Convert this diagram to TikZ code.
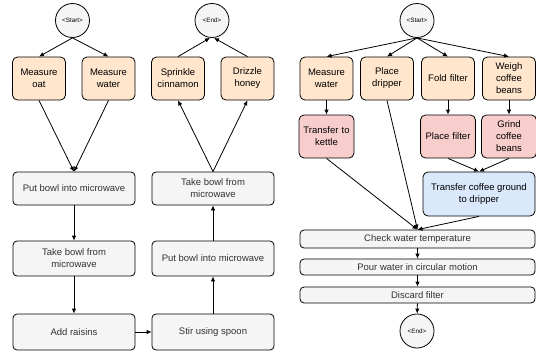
\documentclass[tikz,border=0pt]{standalone}
\usepackage{fontspec}
\setmainfont{Liberation Sans}
\usetikzlibrary{arrows.meta}
\definecolor{orfill}{HTML}{FFE6CC}
\definecolor{pkfill}{HTML}{F8CECC}
\definecolor{blfill}{HTML}{DAE8FC}
\definecolor{gyfill}{HTML}{F5F5F5}
\definecolor{gytext}{HTML}{333333}
\tikzset{
  x=1pt, y=-1pt,
  box/.style={draw=black, line width=0.8pt, rounded corners=5pt, align=center, font=\fontsize{9.5}{12}\selectfont, inner sep=1pt},
  orbox/.style={box, fill=orfill, minimum width=52pt, minimum height=43pt, text width=51pt},
  pkbox/.style={box, fill=pkfill, minimum width=53pt, minimum height=43pt, text width=53pt},
  blbox/.style={box, fill=blfill},
  gybox/.style={box, fill=gyfill, text=gytext, rounded corners=4pt},
  term/.style={draw=black, line width=0.8pt, circle, fill=gyfill, minimum size=34pt, inner sep=0pt, font=\fontsize{6.3}{7}\selectfont},
  arr/.style={draw=black, line width=0.8pt, -{Latex[length=5pt,width=4.5pt]}}
}
\begin{document}
\begin{tikzpicture}
\useasboundingbox (0,0) rectangle (536,354);
% left diagram
\node[term] (startL) at (72.5,20.5) {<Start>};
\node[orbox] (mo) at (39,78.5) {Measure\\oat};
\node[orbox] (mw) at (108.5,78.5) {Measure\\water};
\node[term] (endL) at (212,20.5) {<End>};
\node[orbox] (sc) at (178,78.5) {Sprinkle\\cinnamon};
\node[orbox] (dh) at (247.5,78.5) {Drizzle\\honey};
\node[gybox, minimum width=122pt, minimum height=33pt] (pb1) at (74,188.5) {Put bowl into microwave};
\node[gybox, minimum width=122pt, minimum height=35pt] (tb1) at (74,258.5) {Take bowl from\\microwave};
\node[gybox, minimum width=122pt, minimum height=36pt] (ar) at (74,332) {Add raisins};
\node[gybox, minimum width=122pt, minimum height=36pt] (st) at (213,332) {Stir using spoon};
\node[gybox, minimum width=122pt, minimum height=35pt] (pb2) at (213,258.5) {Put bowl into microwave};
\node[gybox, minimum width=122pt, minimum height=33pt] (tb2) at (213,188.5) {Take bowl from\\microwave};
\draw[arr] (startL.south) -- (mo.north);
\draw[arr] (startL.south) -- (mw.north);
\draw[arr] (mo.south) -- (pb1.north);
\draw[arr] (mw.south) -- (pb1.north);
\draw[arr] (pb1) -- (tb1);
\draw[arr] (tb1) -- (ar);
\draw[arr] (ar) -- (st);
\draw[arr] (st) -- (pb2);
\draw[arr] (pb2) -- (tb2);
\draw[arr] (tb2.north) -- (sc.south);
\draw[arr] (tb2.north) -- (dh.south);
\draw[arr] (sc.north) -- ([xshift=-2pt]endL.south);
\draw[arr] (dh.north) -- ([xshift=2pt]endL.south);
% right diagram
\node[term] (startR) at (417,20.5) {<Start>};
\node[orbox] (mw2) at (326.5,78.5) {Measure\\water};
\node[orbox] (pd) at (387,78.5) {Place\\dripper};
\node[orbox] (ff) at (448,78.5) {Fold filter};
\node[orbox] (wc) at (509,78.5) {Weigh\\coffee\\beans};
\node[pkbox] (tk) at (326.5,136.5) {Transfer to\\kettle};
\node[pkbox] (pf) at (448,136.5) {Place filter};
\node[pkbox] (gc) at (509,136.5) {Grind\\coffee\\beans};
\node[blbox, minimum width=112pt, minimum height=44pt] (tcg) at (479,194) {Transfer coffee ground\\to dripper};
\node[gybox, minimum width=235pt, minimum height=18pt] (cwt) at (417.5,239) {Check water temperature};
\node[gybox, minimum width=235pt, minimum height=16pt] (pw) at (417.5,267) {Pour water in circular motion};
\node[gybox, minimum width=235pt, minimum height=16pt] (df) at (417.5,295) {Discard filter};
\node[term] (endR) at (417,331) {<End>};
\draw[arr] (startR.south) -- (mw2.north);
\draw[arr] (startR.south) -- (pd.north);
\draw[arr] (startR.south) -- (ff.north);
\draw[arr] (startR.south) -- (wc.north);
\draw[arr] (mw2) -- (tk);
\draw[arr] (ff) -- (pf);
\draw[arr] (wc) -- (gc);
\draw[arr] (pf.south) -- (tcg.north);
\draw[arr] (gc.south) -- (tcg.north);
\draw[arr] (tk.south) -- (cwt.north);
\draw[arr] (pd.south) -- (cwt.north);
\draw[arr] (tcg.south) -- (cwt.north);
\draw[arr] (cwt) -- (pw);
\draw[arr] (pw) -- (df);
\draw[arr] (df) -- (endR);
\end{tikzpicture}
\end{document}
